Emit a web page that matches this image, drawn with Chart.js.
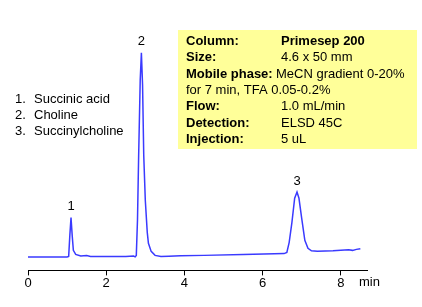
<!DOCTYPE html>
<html>
<head>
<meta charset="utf-8">
<script src="https://cdn.jsdelivr.net/npm/chart.js@4/dist/chart.umd.min.js"></script>
<style>
  html, body { margin: 0; padding: 0; background: #fff; }
  #wrap { width: 422px; height: 307px; position: relative; }
</style>
</head>
<body>
<div id="wrap"><canvas id="chrom"></canvas></div>
<script>
// retention time (min) and detector signal (arbitrary units)
const times = [0, 0.5, 1.0, 1.04, 1.07, 1.10, 1.13, 1.16, 1.22, 1.35, 1.5, 1.6, 2.0, 2.5, 2.7, 2.74,
  2.77, 2.80, 2.83, 2.87, 2.90, 2.93, 2.96, 3.0, 3.05, 3.08, 3.15, 3.25, 3.4, 3.6, 3.9, 4.5, 5.5,
  6.3, 6.55, 6.62, 6.68, 6.75, 6.82, 6.88, 6.93, 7.0, 7.08, 7.16, 7.25, 7.4, 7.8, 8.2, 8.3, 8.4, 8.5];
const signal = [13.3, 13.3, 13.5, 14, 35, 52.7, 35, 20, 16, 14.5, 14.8, 14, 13.8, 13.8, 14.3, 13.5,
  15, 50, 115, 190, 217.3, 185, 115, 70, 38, 27, 19, 15, 14, 14.2, 14.6, 15, 15.8,
  16.5, 16.8, 18, 28, 48, 72, 78.3, 72, 52, 30, 22, 19.5, 19, 19.5, 20.5, 20, 21, 21.7];

// peak numbers placed over the apexes
const peakNames = ['1', '2', '3'];
const peakTimes = [1.10, 2.90, 6.88];
const peakHeights = [52.7, 217.3, 78.3];

// compound list and the method box
const compounds = ['Succinic acid', 'Choline', 'Succinylcholine'];
const methodLabels = ['Column:', 'Size:', 'Mobile phase:', '', 'Flow:', 'Detection:', 'Injection:'];
const methodValues = ['Primesep 200', '4.6 x 50 mm', 'MeCN gradient 0-20%', 'for 7 min, TFA 0.05-0.2%',
  '1.0 mL/min', 'ELSD 45C', '5 uL'];

const xTicks = [0, 2, 4, 6, 8];

const FONT = 'Arial, "Liberation Sans", sans-serif';

// draws the texts and the yellow box around the trace
const annotations = {
  id: 'annotations',
  afterDraw(chart) {
    const ctx = chart.ctx;
    const xs = chart.scales.x, ys = chart.scales.y;
    ctx.save();

    // method box
    ctx.fillStyle = '#ffff99';
    ctx.fillRect(178, 30, 239, 119);
    ctx.fillStyle = '#000';
    ctx.textBaseline = 'middle';
    ctx.textAlign = 'left';
    methodLabels.forEach((lab, i) => {
      const y = 41.5 + i * 16.3;
      if (i === 3) {
        ctx.font = '13px ' + FONT;
        ctx.fillText(methodValues[i], 186, y);
        return;
      }
      ctx.font = 'bold 13px ' + FONT;
      ctx.fillText(lab, 186, y);
      ctx.font = (i === 0 ? 'bold ' : '') + '13px ' + FONT;
      const vx = i === 2 ? 186 + ctx.measureText(lab).width + 3 + 0 : 281;
      if (i === 2) ctx.font = '13px ' + FONT;
      ctx.fillText(methodValues[i], i === 2 ? 276 : vx, y);
    });

    // compound list
    ctx.font = '13px ' + FONT;
    compounds.forEach((c, i) => {
      const y = 99.5 + i * 16;
      ctx.fillText((i + 1) + '.', 15, y);
      ctx.fillText(c, 34, y);
    });

    // peak numbers
    ctx.textAlign = 'center';
    peakNames.forEach((p, i) => {
      ctx.fillText(p, xs.getPixelForValue(peakTimes[i]), ys.getPixelForValue(peakHeights[i]) - 11);
    });

    // axis unit
    ctx.textAlign = 'left';
    ctx.fillText('min', 359, 282);
    ctx.restore();
  }
};

new Chart(document.getElementById('chrom').getContext('2d'), {
  type: 'line',
  data: {
    datasets: [{
      data: times.map((t, i) => ({ x: t, y: signal[i] })),
      borderColor: '#3a3aff',
      borderWidth: 1.5,
      pointRadius: 0,
      tension: 0,
      fill: false
    }]
  },
  options: {
    responsive: true,
    maintainAspectRatio: false,
    animation: false,
    layout: { padding: { left: 28, right: 55, top: 30, bottom: 16 } },
    plugins: { legend: { display: false }, tooltip: { enabled: false } },
    scales: {
      x: {
        type: 'linear',
        min: 0,
        max: 8.67,
        afterBuildTicks: (scale) => { scale.ticks = xTicks.map(v => ({ value: v })); },
        grid: { drawOnChartArea: false, drawTicks: true, tickLength: 5, color: '#000' },
        border: { display: true, color: '#000', width: 1 },
        ticks: { color: '#000', padding: 0, maxRotation: 0, font: { family: FONT, size: 13 } }
      },
      y: {
        display: false,
        min: 0,
        max: 240
      }
    }
  },
  plugins: [annotations]
});
</script>
</body>
</html>
